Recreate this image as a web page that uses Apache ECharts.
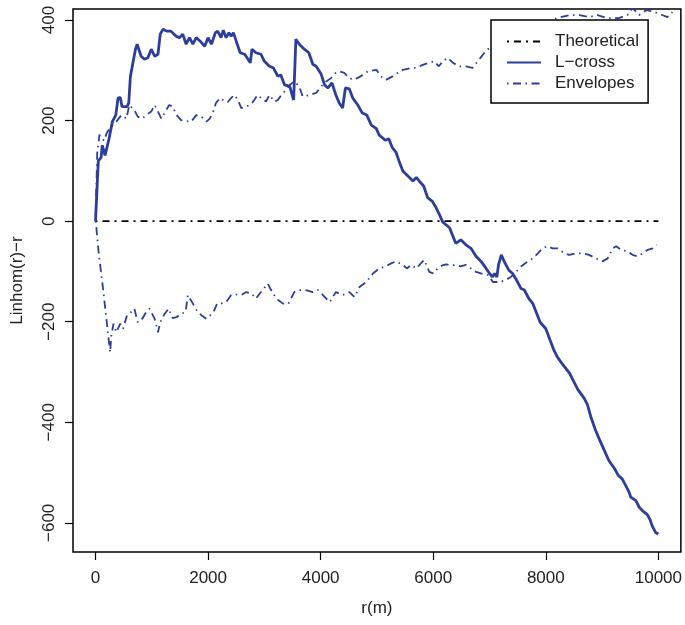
<!DOCTYPE html>
<html>
<head>
<meta charset="utf-8">
<script src="https://cdn.jsdelivr.net/npm/echarts@6/dist/echarts.min.js"></script>
<style>
  html, body { margin: 0; padding: 0; background: #fff; }
  #chart { width: 685px; height: 625px; }
</style>
</head>
<body>
<div id="chart"></div>
<script>
// Ejes (valores de las marcas)
const xTicks = [0, 2000, 4000, 6000, 8000, 10000];
const yTicks = [-600, -400, -200, 0, 200, 400];

// Curva teórica
const theoretical = [[0, 0], [10000, 0]];

// L-cross observado [r, Linhom(r)-r]
const lcross = [
  [0, 0], [50, 120], [100, 127], [120, 151], [170, 131], [240, 164], [300, 198], [360, 211],
  [400, 245], [440, 246], [470, 228], [560, 228], [590, 235], [620, 288], [660, 312], [710, 342],
  [740, 352], [810, 328], [870, 322], [930, 325], [990, 342], [1050, 328], [1110, 332], [1150, 372],
  [1200, 382], [1260, 378], [1340, 378], [1430, 368], [1490, 365], [1550, 372], [1610, 352], [1670, 365],
  [1730, 352], [1790, 365], [1860, 358], [1940, 348], [2000, 365], [2060, 352], [2130, 375], [2170, 378],
  [2230, 365], [2270, 380], [2320, 365], [2370, 375], [2410, 368], [2450, 375], [2500, 358], [2570, 335],
  [2650, 332], [2710, 322], [2750, 315], [2780, 342], [2850, 335], [2940, 332], [3000, 318], [3090, 308],
  [3160, 305], [3240, 288], [3290, 291], [3360, 271], [3450, 268], [3520, 241], [3560, 362], [3620, 352],
  [3710, 342], [3790, 335], [3860, 312], [3920, 308], [4010, 292], [4070, 271], [4130, 265], [4200, 275],
  [4270, 251], [4330, 235], [4390, 225], [4440, 265], [4510, 263], [4570, 245], [4660, 231], [4740, 215],
  [4820, 211], [4900, 191], [4990, 184], [5040, 171], [5150, 161], [5210, 164], [5270, 147], [5340, 137],
  [5400, 117], [5460, 100], [5550, 90], [5640, 80], [5700, 87], [5750, 80], [5830, 70], [5900, 47],
  [5980, 40], [6050, 27], [6110, 13], [6170, -2], [6290, -13], [6400, -44], [6490, -37], [6580, -47],
  [6670, -54], [6760, -70], [6850, -80], [6940, -94], [7000, -104], [7050, -111], [7090, -104], [7130, -111],
  [7160, -87], [7210, -67], [7260, -80], [7340, -97], [7410, -104], [7480, -117], [7560, -134], [7620, -137],
  [7700, -154], [7770, -164], [7830, -181], [7900, -201], [8000, -214], [8070, -235], [8150, -258], [8210, -271],
  [8300, -285], [8420, -302], [8480, -315], [8570, -335], [8680, -352], [8740, -365], [8800, -389], [8880, -415],
  [8960, -436], [9040, -456], [9120, -476], [9220, -492], [9290, -506], [9360, -513], [9420, -526], [9480, -539],
  [9510, -549], [9540, -546], [9600, -556], [9660, -569], [9720, -576], [9800, -583], [9850, -593], [9890, -606],
  [9950, -619], [10000, -622]
];

// Envolvente superior
const upperEnv = [
  [0, 0], [30, 135], [70, 172], [100, 175], [150, 160], [200, 175], [250, 185], [310, 191],
  [370, 198], [460, 211], [550, 204], [600, 231], [690, 221], [750, 208], [830, 204], [900, 211],
  [990, 218], [1050, 231], [1110, 218], [1170, 204], [1240, 218], [1310, 231], [1370, 228], [1440, 211],
  [1520, 201], [1610, 199], [1700, 198], [1790, 211], [1880, 208], [1970, 198], [2030, 204], [2080, 214],
  [2140, 235], [2210, 245], [2290, 239], [2350, 237], [2410, 245], [2470, 251], [2530, 241], [2590, 225],
  [2680, 228], [2770, 233], [2820, 241], [2880, 251], [2940, 245], [3030, 238], [3090, 251], [3180, 238],
  [3240, 241], [3300, 251], [3360, 258], [3450, 271], [3530, 278], [3620, 268], [3680, 248], [3800, 251],
  [3920, 255], [4010, 268], [4100, 278], [4190, 285], [4270, 295], [4330, 298], [4420, 295], [4480, 288],
  [4570, 281], [4660, 285], [4750, 291], [4840, 298], [4990, 301], [5070, 288], [5160, 281], [5280, 288],
  [5370, 295], [5460, 301], [5580, 304], [5670, 305], [5750, 308], [5840, 312], [5930, 315], [6020, 318],
  [6100, 308], [6170, 318], [6260, 325], [6350, 315], [6460, 308], [6580, 308], [6700, 305], [6730, 308],
  [6820, 322], [6910, 335], [6970, 342], [7100, 350], [7250, 358], [7400, 365], [7550, 372], [7700, 380],
  [7850, 388], [8000, 395], [8100, 400], [8200, 404], [8420, 410], [8600, 410], [8770, 406], [8920, 410],
  [9090, 404], [9300, 404], [9450, 410], [9540, 424], [9660, 410], [9790, 420], [9930, 416], [10070, 410],
  [10160, 406], [10250, 416]
];

// Envolvente inferior
const lowerEnv = [
  [0, 0], [10, -7], [60, -67], [120, -121], [180, -181], [220, -221], [260, -261], [280, -228],
  [320, -204], [370, -221], [440, -204], [490, -214], [560, -187], [630, -181], [690, -174], [750, -201],
  [830, -194], [900, -181], [960, -174], [1050, -194], [1110, -221], [1150, -201], [1230, -184], [1300, -174],
  [1370, -193], [1440, -191], [1520, -184], [1600, -181], [1640, -147], [1730, -164], [1800, -178], [1880, -187],
  [1970, -194], [2040, -187], [2100, -180], [2160, -164], [2230, -164], [2320, -161], [2410, -147], [2500, -146],
  [2590, -147], [2680, -141], [2770, -144], [2850, -154], [2940, -141], [3060, -124], [3120, -137], [3210, -154],
  [3330, -164], [3430, -164], [3530, -141], [3620, -137], [3740, -137], [3860, -141], [3950, -137], [4040, -147],
  [4160, -161], [4270, -141], [4390, -147], [4510, -141], [4600, -151], [4690, -131], [4810, -121], [4930, -104],
  [5040, -94], [5160, -90], [5250, -84], [5340, -80], [5460, -87], [5530, -94], [5610, -87], [5700, -94],
  [5780, -84], [5840, -77], [5930, -101], [6000, -104], [6080, -94], [6160, -88], [6230, -86], [6320, -88],
  [6400, -87], [6490, -90], [6580, -87], [6670, -94], [6760, -101], [6850, -104], [6970, -107], [7060, -121],
  [7180, -121], [7290, -117], [7380, -111], [7470, -101], [7560, -90], [7680, -80], [7770, -74], [7860, -64],
  [7940, -54], [8030, -50], [8120, -54], [8210, -54], [8330, -64], [8420, -67], [8540, -64], [8660, -64],
  [8770, -67], [8890, -74], [9010, -80], [9100, -74], [9190, -54], [9250, -50], [9340, -57], [9450, -60],
  [9540, -67], [9630, -70], [9720, -64], [9810, -57], [9900, -54], [9970, -47]
];

const azul = '#2c3e9c';
const fuente = "'Liberation Sans', Arial, Helvetica, sans-serif";
const dotdash = [2, 5, 7, 5];
const envDash = [1.5, 4.5, 8, 4.5];
const menos = v => String(v).replace('-', '\u2212');

const option = {
    animation: false,
    backgroundColor: '#fff',
    textStyle: { fontFamily: fuente },
    grid: {
        left: 73, right: 3, top: 9, bottom: 73,
        show: true, borderColor: '#000', borderWidth: 1.5, backgroundColor: 'transparent'
    },
    legend: {
        orient: 'vertical',
        left: 491, top: 20,
        data: ['Theoretical', 'L\u2212cross', 'Envelopes'],
        itemWidth: 34, itemHeight: 14, itemGap: 4,
        padding: [13, 9, 11, 15],
        backgroundColor: '#fff',
        borderColor: '#000', borderWidth: 1.5,
        selectedMode: false,
        itemStyle: { opacity: 0 },
        textStyle: { fontSize: 17, color: '#222', fontFamily: fuente, lineHeight: 17, padding: [0, 0, 0, 9] }
    },
    xAxis: {
        type: 'value',
        min: -400, max: 10400,
        name: 'r(m)',
        nameLocation: 'middle',
        nameGap: 48,
        nameTextStyle: { fontSize: 17, color: '#222', fontFamily: fuente },
        axisLine: { show: false, onZero: false },
        axisTick: { show: true, inside: false, length: 8, customValues: xTicks, lineStyle: { color: '#000', width: 1.2 } },
        axisLabel: { customValues: xTicks, fontSize: 17, color: '#222', margin: 18, fontFamily: fuente, formatter: v => String(v) },
        splitLine: { show: false }
    },
    yAxis: {
        type: 'value',
        min: -658, max: 422,
        name: 'Linhom(r)\u2212r',
        nameLocation: 'middle',
        nameGap: 47,
        nameRotate: 90,
        nameTextStyle: { fontSize: 17, color: '#222', fontFamily: fuente },
        axisLine: { show: false, onZero: false },
        axisTick: { show: true, inside: false, length: 8, customValues: yTicks, lineStyle: { color: '#000', width: 1.2 } },
        axisLabel: {
            customValues: yTicks, fontSize: 17, color: '#222', margin: 15, rotate: 90, fontFamily: fuente,
            formatter: menos
        },
        splitLine: { show: false }
    },
    series: [
        {
            name: 'Theoretical', type: 'line', data: theoretical, symbol: 'none',
            lineStyle: { color: '#000', width: 1.8, type: dotdash },
            itemStyle: { color: '#000' }
        },
        {
            name: 'L\u2212cross', type: 'line', data: lcross, symbol: 'none',
            lineStyle: { color: azul, width: 2.8 },
            itemStyle: { color: azul }, z: 3
        },
        {
            name: 'Envelopes', type: 'line', data: upperEnv, symbol: 'none',
            lineStyle: { color: azul, width: 1.8, type: envDash },
            itemStyle: { color: azul }
        },
        {
            name: 'Envelopes', type: 'line', data: lowerEnv, symbol: 'none',
            lineStyle: { color: azul, width: 1.8, type: envDash },
            itemStyle: { color: azul }
        }
    ]
};

const chart = echarts.init(document.getElementById('chart'));
chart.setOption(option);
</script>
</body>
</html>
